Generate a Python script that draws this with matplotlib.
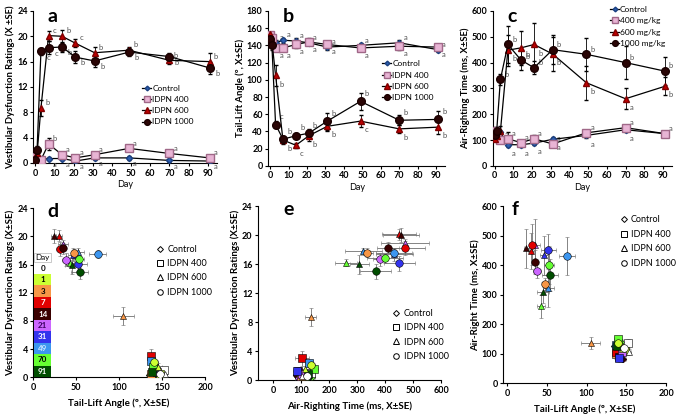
import numpy as np
import matplotlib
matplotlib.use('Agg')
import matplotlib.pyplot as plt
from matplotlib.lines import Line2D

plt.rcParams['font.family'] = ['Lato', 'DejaVu Sans']

days = [0, 1, 3, 7, 14, 21, 31, 49, 70, 91]
groups = ['Control', 'IDPN 400', 'IDPN 600', 'IDPN 1000']
groups_c = ['Control', '400 mg/kg', '600 mg/kg', '1000 mg/kg']

# vestibular dysfunction ratings (panel a)
vdr = {
    'Control':   [0.3, 0.5, 0.7, 0.7, 0.7, 0.3, 0.8, 0.8, 0.4, 0.3],
    'IDPN 400':  [1.0, 0.5, 0.5, 3.0, 1.3, 0.8, 1.3, 2.3, 1.5, 0.8],
    'IDPN 600':  [0.5, 1.5, 8.7, 20.1, 20.0, 18.9, 17.4, 17.8, 16.2, 16.0],
    'IDPN 1000': [0.5, 2.1, 17.6, 18.2, 18.3, 16.7, 16.1, 17.5, 16.8, 15.0],
}
vdr_se = {
    'Control':   [0.2, 0.3, 0.3, 0.3, 0.3, 0.2, 0.3, 0.3, 0.2, 0.2],
    'IDPN 400':  [0.5, 0.3, 0.3, 1.0, 0.5, 0.4, 0.4, 0.4, 0.4, 0.3],
    'IDPN 600':  [0.3, 0.5, 1.3, 0.8, 1.0, 0.6, 0.9, 0.5, 0.5, 1.3],
    'IDPN 1000': [0.3, 0.5, 0.6, 1.0, 0.8, 0.9, 1.0, 0.6, 0.6, 1.0],
}
# tail-lift angle (panel b)
tla = {
    'Control':   [148, 145, 143, 146, 145, 143, 138, 140, 143, 135],
    'IDPN 400':  [152, 148, 137, 137, 141, 144, 141, 137, 139, 138],
    'IDPN 600':  [153, 145, 105, 30, 24, 35, 46, 52, 43, 45],
    'IDPN 1000': [147, 140, 48, 31, 35, 38, 52, 75, 53, 54],
}
tla_se = {
    'Control':   [3, 3, 3, 3, 3, 3, 3, 3, 3, 3],
    'IDPN 400':  [4, 4, 4, 4, 4, 4, 4, 4, 4, 4],
    'IDPN 600':  [3, 5, 12, 4, 3, 6, 5, 7, 5, 8],
    'IDPN 1000': [4, 5, 4, 4, 3, 5, 10, 10, 6, 10],
}
# air-righting time (panel c)
art = {
    'Control':   [110, 120, 130, 82, 82, 88, 103, 118, 140, 125],
    'IDPN 400':  [135, 110, 100, 105, 90, 105, 85, 128, 148, 125],
    'IDPN 600':  [105, 115, 135, 448, 457, 470, 433, 322, 260, 308],
    'IDPN 1000': [120, 135, 335, 470, 410, 380, 450, 432, 400, 367],
}
art_se = {
    'Control':   [10, 10, 10, 8, 8, 8, 8, 10, 10, 10],
    'IDPN 400':  [15, 10, 10, 25, 12, 15, 12, 12, 12, 10],
    'IDPN 600':  [10, 15, 20, 60, 65, 85, 65, 65, 40, 35],
    'IDPN 1000': [10, 15, 20, 70, 40, 25, 55, 65, 65, 55],
}
# significance letters
let_a = {
    'Control':   ['', '', '', 'a', 'a', 'a', 'a', 'a', 'a', 'a'],
    'IDPN 400':  ['', '', '', 'b', 'a', 'a', 'a', 'a', 'a', 'a'],
    'IDPN 600':  ['', '', 'b', 'c', 'b', 'c', 'b', 'b', 'b', 'b'],
    'IDPN 1000': ['', '', 'c', 'c', 'b', 'b', 'b', 'b', 'b', 'b'],
}
let_b = {
    'Control':   ['', '', 'a', 'a', 'a', 'a', 'a', 'a', 'a', 'a'],
    'IDPN 400':  ['', '', 'a', 'a', 'a', 'a', 'a', 'a', 'a', 'a'],
    'IDPN 600':  ['', '', 'b', 'b', 'c', 'b', 'b', 'c', 'b', 'b'],
    'IDPN 1000': ['', '', 'c', 'b', 'b', 'b', 'b', 'b', 'b', 'b'],
}
let_c = {
    'Control':   ['', '', '', 'a', 'a', 'a', 'a', 'a', 'a', ''],
    'IDPN 400':  ['', '', 'a', 'a', 'a', 'a', 'a', 'a', 'a', 'a'],
    'IDPN 600':  ['', '', 'a', 'b', 'b', 'b', 'b', 'b', 'a', 'b'],
    'IDPN 1000': ['', '', 'b', 'b', 'b', 'b', 'b', 'b', 'b', 'b'],
}
# where the letters sit relative to the point (offset points)
off_a = {'Control': (3, -6), 'IDPN 400': (3, 2), 'IDPN 600': (3, 2), 'IDPN 1000': (4, -6)}
off_b = {'Control': (3, 2), 'IDPN 400': (3, -7), 'IDPN 600': (3, -8), 'IDPN 1000': (3, 4)}
off_c = {'Control': (3, -8), 'IDPN 400': (3, 2), 'IDPN 600': (3, -8), 'IDPN 1000': (3, 2)}

day_colors = ['#ffffff', '#ccff33', '#f79646', '#e00000', '#3a0000',
              '#cc66ff', '#3333ee', '#3c96f0', '#66ff33', '#004d00']
day_text = ['black', 'black', 'black', 'white', 'white',
            '#3a0060', 'white', '#cce6ff', 'black', 'white']

mk = {'Control': 'D', 'IDPN 400': 's', 'IDPN 600': '^', 'IDPN 1000': 'o'}
ms = {'Control': 3.2, 'IDPN 400': 5.5, 'IDPN 600': 5, 'IDPN 1000': 5.5}
fc = {'Control': '#2d5fb0', 'IDPN 400': '#e8b4d4', 'IDPN 600': '#c00000', 'IDPN 1000': '#2a0505'}
ec = {'Control': '#1a3f80', 'IDPN 400': '#a06888', 'IDPN 600': '#800000', 'IDPN 1000': '#1a0000'}

fig = plt.figure(figsize=(6.79, 4.2), dpi=100)

def style(ax):
    for s in ['top', 'right']:
        ax.spines[s].set_visible(False)
    ax.tick_params(labelsize=6.5, length=2.5, width=0.8, pad=1.5)
    for t in ax.get_xticklabels() + ax.get_yticklabels():
        t.set_fontweight('bold')

def time_panel(rect, data, se, letters, offs, ylim, yticks, ylabel, tag, labels, lg_anchor):
    ax = fig.add_axes(rect)
    for g in groups:
        ax.errorbar(days, data[g], yerr=se[g], color='black', lw=0.9, elinewidth=0.6,
                    capsize=1.3, marker=mk[g], ms=ms[g], mfc=fc[g], mec=ec[g], zorder=3)
        for d, v, l in zip(days, data[g], letters[g]):
            if l:
                ax.annotate(l, (d, v), xytext=offs[g], textcoords='offset points',
                            fontsize=5.5, color='#505050')
    ax.set_xlim(-1, 95)
    ax.set_xticks(range(0, 91, 10))
    ax.set_ylim(*ylim)
    ax.set_yticks(yticks)
    ax.set_xlabel('Day', fontsize=6.5, labelpad=2)
    ax.set_ylabel(ylabel, fontsize=6.8, fontweight='bold', labelpad=1.5)
    ax.text(0.08, 1.02, tag, transform=ax.transAxes, fontsize=14, fontweight='bold', va='top')
    h = [Line2D([], [], color='black', lw=0.9, marker=mk[g], ms=ms[g] * 0.75, mfc=fc[g], mec=ec[g])
         for g in groups]
    ax.legend(h, labels, loc='center left', bbox_to_anchor=lg_anchor, frameon=False,
              fontsize=6, handlelength=1.1, handletextpad=0.1, labelspacing=0.5, borderpad=0)
    style(ax)
    return ax

time_panel([0.049, 0.612, 0.271, 0.362], vdr, vdr_se, let_a, off_a, (0, 24), range(0, 25, 4),
           'Vestibular Dysfunction Ratings (X \u00b1SE)', 'a', groups, (0.57, 0.38))
time_panel([0.395, 0.605, 0.261, 0.369], tla, tla_se, let_b, off_b, (0, 180), range(0, 181, 20),
           'Tail-Lift Angle (\u00ba, X\u00b1SE)', 'b', groups, (0.62, 0.55))
time_panel([0.726, 0.605, 0.264, 0.369], art, art_se, let_c, off_c, (0, 600), range(0, 601, 100),
           'Air-Righting Time (ms, X\u00b1SE)', 'c', groups_c, (0.63, 0.9))

def scatter_panel(rect, xd, xse, yd, yse, xlim, xticks, ylim, yticks, xlabel, ylabel, tag, tagx, lg_anchor):
    ax = fig.add_axes(rect)
    for g in groups:
        for i in range(len(days)):
            ax.errorbar(xd[g][i], yd[g][i], xerr=xse[g][i], yerr=yse[g][i], ecolor='#707070',
                        elinewidth=0.6, capsize=1.3, marker=mk[g], ms=ms[g] * 0.9 + 0.5,
                        mfc=day_colors[i], mec='black', mew=0.4, zorder=3)
    ax.set_xlim(*xlim)
    ax.set_xticks(xticks)
    ax.set_ylim(*ylim)
    ax.set_yticks(yticks)
    ax.set_xlabel(xlabel, fontsize=7, fontweight='bold', labelpad=5)
    ax.set_ylabel(ylabel, fontsize=7, fontweight='bold', labelpad=1.5)
    ax.text(tagx, 1.03, tag, transform=ax.transAxes, fontsize=14, fontweight='bold', va='top')
    h = [Line2D([], [], ls='none', marker=mk[g], ms=4 if g != 'Control' else 3,
                mfc='white', mec='black', mew=0.7) for g in groups]
    ax.legend(h, groups, loc='center left', bbox_to_anchor=lg_anchor, frameon=False,
              fontsize=6.5, handlelength=0.8, handletextpad=0.4, labelspacing=0.6, borderpad=0)
    style(ax)
    return ax

axd = scatter_panel([0.049, 0.102, 0.253, 0.402], tla, tla_se, vdr, vdr_se, (0, 200),
                    range(0, 201, 50), (0, 24), range(0, 25, 4),
                    'Tail-Lift Angle (\u00ba, X\u00b1SE)', 'Vestibular Dysfunction Ratings (X\u00b1SE)',
                    'd', 0.08, (0.69, 0.63))
scatter_panel([0.38, 0.095, 0.27, 0.414], art, art_se, vdr, vdr_se, (-53, 600),
              range(0, 601, 100), (0, 24), range(0, 25, 4),
              'Air-Righting Time (ms, X\u00b1SE)', 'Vestibular Dysfunction Ratings (X\u00b1SE)',
              'e', 0.14, (0.71, 0.26))
scatter_panel([0.741, 0.088, 0.24, 0.421], tla, tla_se, art, art_se, (-5, 200),
              range(0, 201, 50), (0, 600), range(0, 601, 100),
              'Tail-Lift Angle (\u00ba, X\u00b1SE)', 'Air-Right Time (ms, X\u00b1SE)',
              'f', 0.05, (0.69, 0.8))

# day colour key inside panel d
key = axd.inset_axes([0.005, 0.0, 0.1, 0.68])
key.barh(range(len(days)), 1, height=1.0, color=day_colors, edgecolor='none')
for i, d in enumerate(days):
    key.text(0.5, i, str(d), ha='center', va='center', fontsize=5.8, fontweight='bold',
             color=day_text[i])
key.set_ylim(len(days) - 0.5, -0.5)
key.set_xlim(0, 1)
key.axis('off')
key.text(0.5, 1.01, 'Day', transform=key.transAxes, ha='center', va='bottom', fontsize=5.8,
         bbox=dict(boxstyle='square,pad=0.15', fc='white', ec='#c0c0c0', lw=0.6))

fig.savefig('out.png', dpi=100)
